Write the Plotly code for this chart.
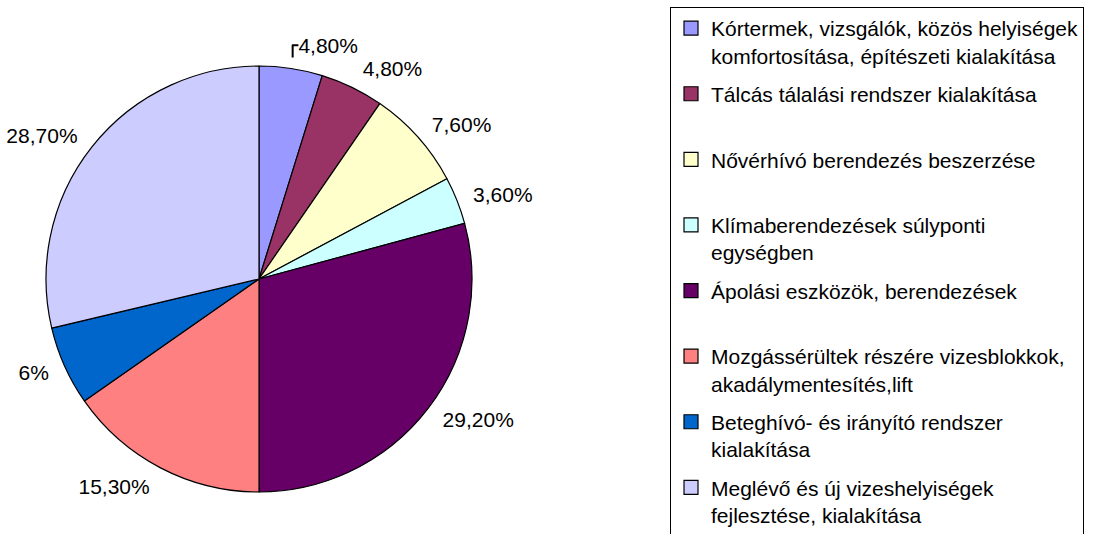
import plotly.graph_objects as go

categories = [
    "Kórtermek, vizsgálók, közös helyiségek<br>komfortosítása, építészeti kialakítása",
    "Tálcás tálalási rendszer kialakítása",
    "Nővérhívó berendezés beszerzése",
    "Klímaberendezések súlyponti<br>egységben",
    "Ápolási eszközök, berendezések",
    "Mozgássérültek részére vizesblokkok,<br>akadálymentesítés,lift",
    "Beteghívó- és irányító rendszer<br>kialakítása",
    "Meglévő és új vizeshelyiségek<br>fejlesztése, kialakítása",
]
values = [4.8, 4.8, 7.6, 3.6, 29.2, 15.3, 6.0, 28.7]
value_labels = ["4,80%", "4,80%", "7,60%", "3,60%", "29,20%", "15,30%", "6%", "28,70%"]
colors = ["#9999FF", "#993366", "#FFFFCC", "#CCFFFF", "#660066", "#FF8080", "#0066CC", "#CCCCFF"]

FONT = "Liberation Sans, Arial, sans-serif"
W, H = 1095, 534


def dom(cx, cy, r):
    return dict(x=[(cx - r) / W, (cx + r) / W], y=[(H - cy - r) / H, (H - cy + r) / H])


fig = go.Figure()

cx, cy, r = 259, 279, 213

# transparent companion pie that only carries the percentage labels a bit farther out
fig.add_trace(go.Pie(
    labels=categories,
    values=values,
    text=value_labels,
    textinfo="text",
    textposition="outside",
    textfont=dict(family=FONT, size=21, color="black"),
    marker=dict(colors=["rgba(0,0,0,0)"] * len(values), line=dict(width=0)),
    sort=False,
    direction="clockwise",
    rotation=0,
    showlegend=False,
    hoverinfo="skip",
    domain=dom(cx, cy, r + 11),
))

# visible pie
fig.add_trace(go.Pie(
    labels=categories,
    values=values,
    textinfo="none",
    marker=dict(colors=colors, line=dict(color="black", width=1.2)),
    sort=False,
    direction="clockwise",
    rotation=0,
    showlegend=False,
    hoverinfo="label+percent",
    domain=dom(cx, cy, r),
))

# Legend entries (one per category, same colours)
for i, (cat, col) in enumerate(zip(categories, colors)):
    name = cat if "<br>" in cat else cat + "<br>\u00a0"
    fig.add_trace(go.Scatter(
        x=[None], y=[None], mode="markers", name=name,
        legendgroup=f"g{i}",
        marker=dict(symbol="square", size=14, color=col, line=dict(color="black", width=1.2)),
        hoverinfo="skip",
    ))

fig.update_layout(
    width=W, height=H,
    margin=dict(l=0, r=0, t=0, b=0, autoexpand=False),
    paper_bgcolor="white",
    plot_bgcolor="white",
    font=dict(family=FONT, size=21, color="black"),
    xaxis=dict(visible=False),
    yaxis=dict(visible=False),
    showlegend=True,
    legend=dict(
        x=670 / W, y=1 - 7 / H, xanchor="left", yanchor="top",
        bordercolor="black", borderwidth=1, bgcolor="white",
        font=dict(family=FONT, size=21, color="black"),
        traceorder="grouped", tracegroupgap=8, valign="top",
        itemsizing="trace",
    ),
)

fig.write_html(
    "out.html",
    config={"displayModeBar": False},
    post_script="document.body.style.margin='0px';",
)
